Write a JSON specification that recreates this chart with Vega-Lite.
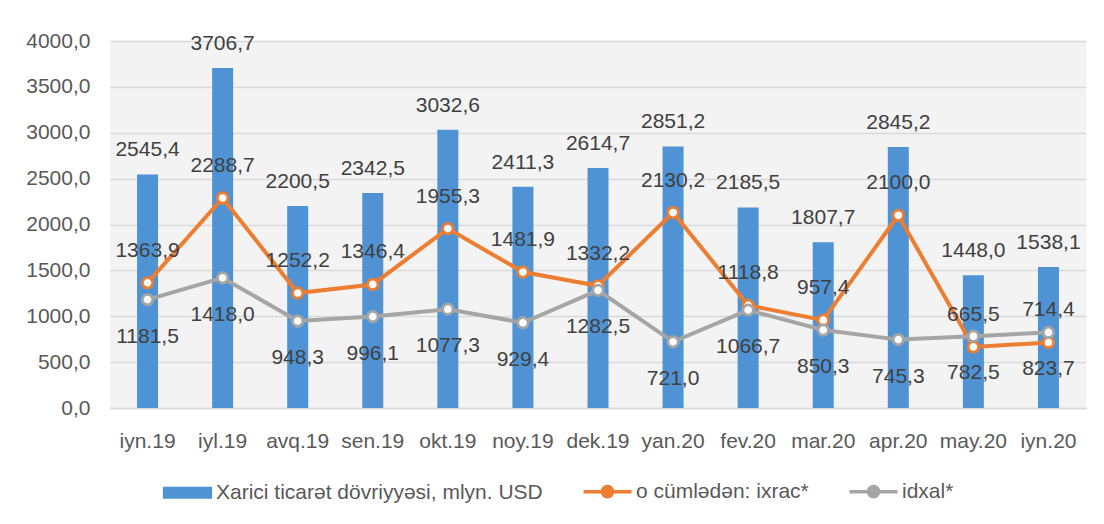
{
  "$schema": "https://vega.github.io/schema/vega-lite/v6.json",
  "width": 976,
  "height": 367,
  "autosize": "none",
  "padding": {"left": 110, "top": 41, "right": 18, "bottom": 116},
  "background": "white",
  "config": {
    "font": "Liberation Sans",
    "view": {"fill": "#f3f3f3", "stroke": null},
    "locale": {"number": {"decimal": ",", "thousands": "", "grouping": [3], "currency": ["", ""]}}
  },
  "data": {
    "values": [
      {"m": "iyn.19", "s": "a", "v": 2545.4}, {"m": "iyn.19", "s": "b", "v": 1363.9}, {"m": "iyn.19", "s": "c", "v": 1181.5},
      {"m": "iyl.19", "s": "a", "v": 3706.7}, {"m": "iyl.19", "s": "b", "v": 2288.7}, {"m": "iyl.19", "s": "c", "v": 1418.0},
      {"m": "avq.19", "s": "a", "v": 2200.5}, {"m": "avq.19", "s": "b", "v": 1252.2}, {"m": "avq.19", "s": "c", "v": 948.3},
      {"m": "sen.19", "s": "a", "v": 2342.5}, {"m": "sen.19", "s": "b", "v": 1346.4}, {"m": "sen.19", "s": "c", "v": 996.1},
      {"m": "okt.19", "s": "a", "v": 3032.6}, {"m": "okt.19", "s": "b", "v": 1955.3}, {"m": "okt.19", "s": "c", "v": 1077.3},
      {"m": "noy.19", "s": "a", "v": 2411.3}, {"m": "noy.19", "s": "b", "v": 1481.9}, {"m": "noy.19", "s": "c", "v": 929.4},
      {"m": "dek.19", "s": "a", "v": 2614.7}, {"m": "dek.19", "s": "b", "v": 1332.2}, {"m": "dek.19", "s": "c", "v": 1282.5},
      {"m": "yan.20", "s": "a", "v": 2851.2}, {"m": "yan.20", "s": "b", "v": 2130.2}, {"m": "yan.20", "s": "c", "v": 721.0},
      {"m": "fev.20", "s": "a", "v": 2185.5}, {"m": "fev.20", "s": "b", "v": 1118.8}, {"m": "fev.20", "s": "c", "v": 1066.7},
      {"m": "mar.20", "s": "a", "v": 1807.7}, {"m": "mar.20", "s": "b", "v": 957.4}, {"m": "mar.20", "s": "c", "v": 850.3},
      {"m": "apr.20", "s": "a", "v": 2845.2}, {"m": "apr.20", "s": "b", "v": 2100.0}, {"m": "apr.20", "s": "c", "v": 745.3},
      {"m": "may.20", "s": "a", "v": 1448.0}, {"m": "may.20", "s": "b", "v": 665.5}, {"m": "may.20", "s": "c", "v": 782.5},
      {"m": "iyn.20", "s": "a", "v": 1538.1}, {"m": "iyn.20", "s": "b", "v": 714.4}, {"m": "iyn.20", "s": "c", "v": 823.7}
    ]
  },
  "encoding": {
    "x": {
      "field": "m", "type": "ordinal", "sort": null,
      "scale": {"paddingInner": 0, "paddingOuter": 0},
      "axis": {"title": null, "labelAngle": 0, "labelFontSize": 21, "labelColor": "#595959", "ticks": false, "domainColor": "#d9d9d9", "domainWidth": 1.3, "labelPadding": 22, "grid": false}
    },
    "y": {
      "field": "v", "type": "quantitative",
      "scale": {"domain": [0, 4000], "nice": false},
      "axis": {"title": null, "values": [0, 500, 1000, 1500, 2000, 2500, 3000, 3500, 4000], "format": ".1f", "labelFontSize": 21, "labelColor": "#595959", "labelPadding": 20, "ticks": false, "domain": false, "gridColor": "#d9d9d9", "gridWidth": 1.3}
    }
  },
  "layer": [
    {
      "transform": [{"filter": "datum.s == 'a'"}],
      "mark": {"type": "bar", "width": 21},
      "encoding": {
        "color": {
          "field": "s", "type": "nominal",
          "scale": {"domain": ["a", "b", "c"], "range": ["#4F93D5", "#ED7D31", "#A5A5A5"]},
          "legend": {
            "orient": "none", "legendX": 67, "legendY": 440, "direction": "horizontal", "title": null,
            "labelFontSize": 21, "labelColor": "#595959", "labelLimit": 0, "symbolSize": 144, "labelOffset": 18, "columnPadding": 33, "padding": 0,
            "labelExpr": "datum.value == 'a' ? 'Xarici ticarət dövriyyəsi, mlyn. USD' : datum.value == 'b' ? 'o cümlədən: ixrac*' : 'idxal*'",
            "encode": {
              "symbols": {
                "update": {
                  "shape": {"signal": "datum.value == 'a' ? 'M-4.1,-1H4.1V1H-4.1Z' : 'M-4,0H-0.85M0.85,0H4M-0.85,0A0.85,0.85 0 1 0 0.85,0A0.85,0.85 0 1 0 -0.85,0'"},
                  "fill": {"signal": "datum.value == 'a' ? '#4F93D5' : '#ffffff'"},
                  "stroke": {"signal": "datum.value == 'a' ? '#4F93D5' : datum.value == 'b' ? '#ED7D31' : '#A5A5A5'"},
                  "strokeWidth": {"signal": "datum.value == 'a' ? 0 : 3.5"},
                  "opacity": {"value": 1},
                  "fillOpacity": {"value": 1},
                  "strokeOpacity": {"value": 1}
                }
              }
            }
          }
        }
      }
    },
    {
      "transform": [{"filter": "datum.s != 'a'"}],
      "mark": {"type": "line", "strokeWidth": 4},
      "encoding": {"color": {"field": "s", "type": "nominal"}}
    },
    {
      "transform": [{"filter": "datum.s != 'a'"}],
      "mark": {"type": "point", "filled": false, "fill": "#ffffff", "fillOpacity": 1, "opacity": 1, "size": 110, "strokeWidth": 2.8},
      "encoding": {"color": {"field": "s", "type": "nominal"}}
    },
    {
      "transform": [{"filter": "datum.s == 'a'"}],
      "mark": {"type": "text", "baseline": "alphabetic", "dy": -18, "fontSize": 21, "color": "#404040"},
      "encoding": {"text": {"field": "v", "type": "quantitative", "format": ".1f"}}
    },
    {
      "transform": [{"filter": "datum.s == 'b'"}],
      "mark": {"type": "text", "baseline": "alphabetic", "dy": -26, "fontSize": 21, "color": "#404040"},
      "encoding": {"text": {"field": "v", "type": "quantitative", "format": ".1f"}}
    },
    {
      "transform": [{"filter": "datum.s == 'c'"}],
      "mark": {"type": "text", "baseline": "alphabetic", "dy": 43, "fontSize": 21, "color": "#404040"},
      "encoding": {"text": {"field": "v", "type": "quantitative", "format": ".1f"}}
    }
  ]
}
